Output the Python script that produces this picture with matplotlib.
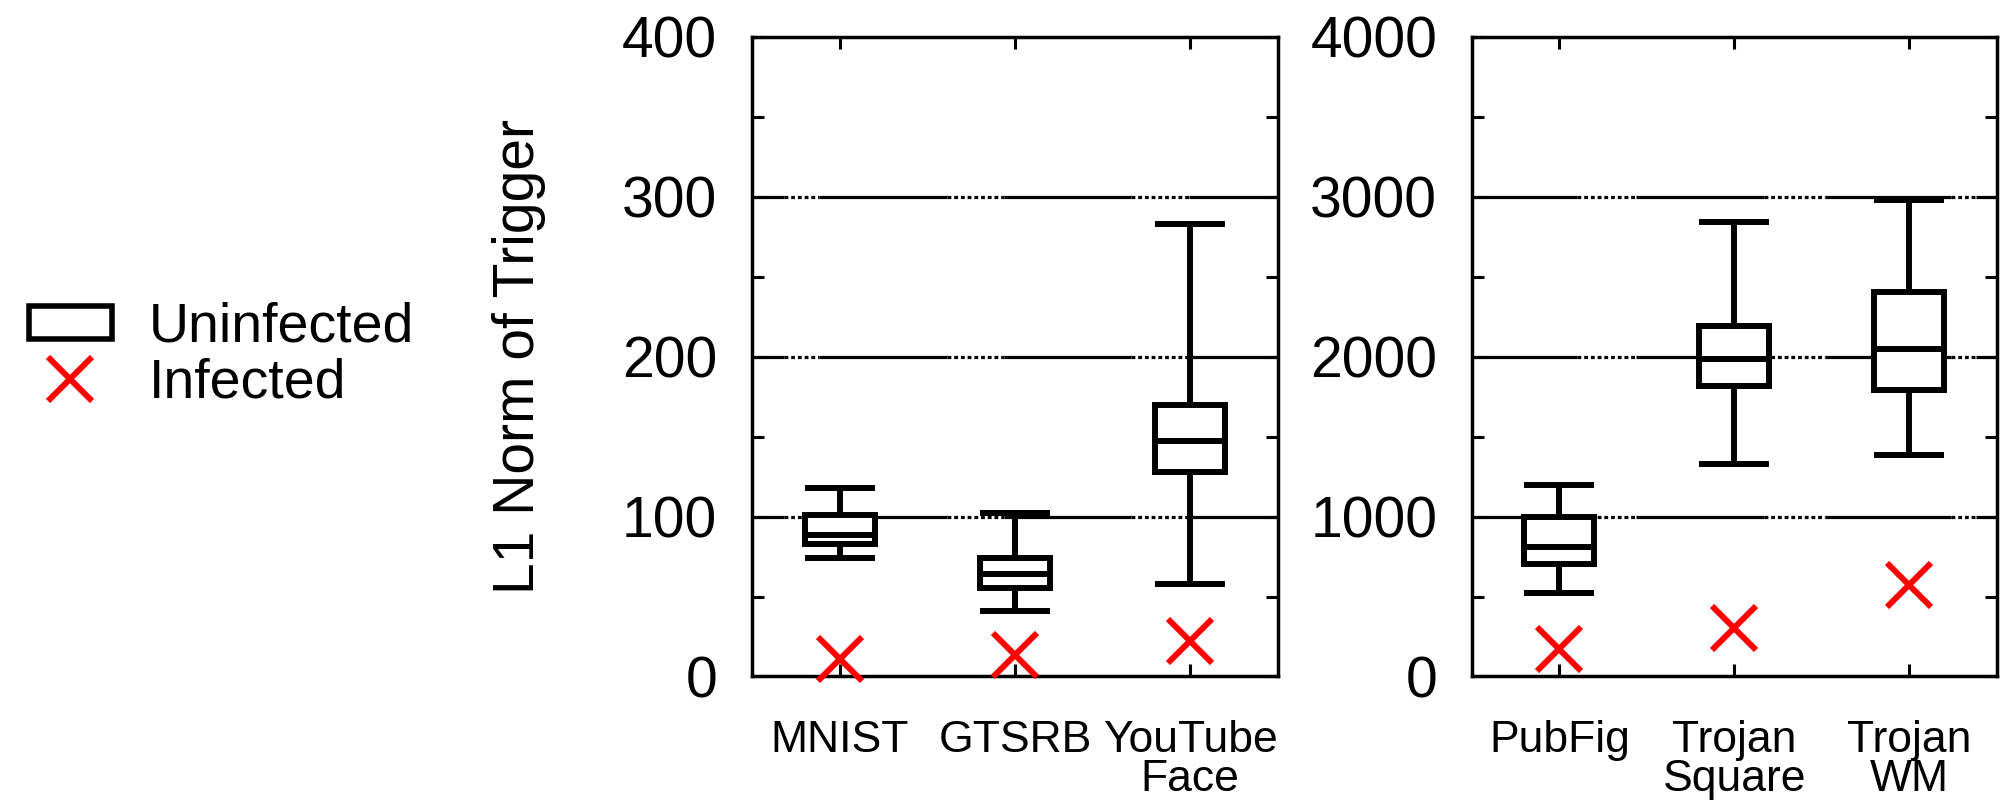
import numpy as np
import matplotlib
matplotlib.use("Agg")
import matplotlib.pyplot as plt
from matplotlib.lines import Line2D
from matplotlib.patches import Patch

plt.rcParams['font.family'] = ['Liberation Sans', 'DejaVu Sans']

# L1 norm of reverse-engineered triggers: uninfected labels as box summaries,
# infected label as a single value per model.
left_names = ["MNIST", "GTSRB", "YouTube\nFace"]
left_whislo = [74, 41, 58]
left_q1 = [83, 55.5, 128]
left_med = [88.5, 64, 147]
left_q3 = [101, 74, 170]
left_whishi = [118, 102.5, 283]
left_infected = [11, 13.5, 22]
left_yticks = [0, 100, 200, 300, 400]

right_names = ["PubFig", "Trojan\nSquare", "Trojan\nWM"]
right_whislo = [525, 1327, 1385]
right_q1 = [705, 1817, 1795]
right_med = [808, 1985, 2047]
right_q3 = [1000, 2195, 2402]
right_whishi = [1200, 2840, 2980]
right_infected = [170, 305, 575]
right_yticks = [0, 1000, 2000, 3000, 4000]

ylabel = "L1 Norm of Trigger"
legend_labels = ["Uninfected", "Infected"]

BOX_LW = 4.3
GRID_LW = 2.3
SPINE_LW = 2.5
RED = "#ff0000"

fig = plt.figure(figsize=(20.09, 8.09), dpi=100)
ax_l = fig.add_axes([0.3743, 0.1638, 0.2618, 0.7905])
ax_r = fig.add_axes([0.7327, 0.1638, 0.2613, 0.7905])


def draw_panel(ax, names, lo, q1, med, q3, hi, infected, yticks, dotted_spans):
    pos = np.arange(1, len(names) + 1)
    stats = [dict(whislo=a, q1=b, med=c, q3=d, whishi=e, fliers=[])
             for a, b, c, d, e in zip(lo, q1, med, q3, hi)]
    line_kw = dict(color="black", linewidth=BOX_LW, solid_capstyle="butt")
    ax.bxp(stats, positions=pos, widths=0.4, capwidths=0.4,
           patch_artist=True, showfliers=False,
           boxprops=dict(facecolor="white", edgecolor="black",
                         linewidth=BOX_LW, joinstyle="miter"),
           medianprops=line_kw, whiskerprops=line_kw, capprops=line_kw,
           zorder=3)
    ax.plot(pos, infected, linestyle="none", marker="x", color=RED,
            markersize=32, markeredgewidth=4.3, zorder=4, clip_on=False)

    # horizontal grid: solid with dotted stretches
    x0, x1 = 0.5, len(names) + 0.5
    edges = [x0] + [v for span in dotted_spans for v in span] + [x1]
    for y in yticks[1:-1]:
        for i in range(len(edges) - 1):
            style = "-" if i % 2 == 0 else (0, (1.2, 0.9))
            ax.plot([edges[i], edges[i + 1]], [y, y], color="black",
                    linewidth=GRID_LW, linestyle=style,
                    solid_capstyle="butt", dash_capstyle="butt", zorder=1)

    ax.set_xlim(x0, x1)
    ax.set_ylim(yticks[0], yticks[-1])
    ax.set_yticks(yticks)
    ax.set_yticks([(a + b) / 2 for a, b in zip(yticks[:-1], yticks[1:])], minor=True)
    ax.set_xticks(pos, names)
    ax.tick_params(which="both", direction="in", top=True, right=True,
                   length=8.6, width=2.2)
    ax.tick_params(axis="y", which="major", labelsize=41, pad=25)
    ax.tick_params(axis="x", labelsize=32, pad=31)
    for t in ax.get_xticklabels():
        t.set_linespacing(0.95)
    for sp in ax.spines.values():
        sp.set_linewidth(SPINE_LW)


draw_panel(ax_l, left_names, left_whislo, left_q1, left_med, left_q3,
           left_whishi, left_infected, left_yticks,
           [(0.68, 0.88), (1.61, 1.94), (2.66, 2.99)])
draw_panel(ax_r, right_names, right_whislo, right_q1, right_med, right_q3,
           right_whishi, right_infected, right_yticks,
           [(1.10, 1.44), (2.17, 2.52), (3.24, 3.38)])

ax_l.set_ylabel(ylabel, fontsize=41, labelpad=55)

handles = [
    Patch(facecolor="white", edgecolor="black", linewidth=4.0),
    Line2D([], [], linestyle="none", marker="x", color=RED,
           markersize=32, markeredgewidth=4.3),
]
fig.legend(handles, legend_labels, loc="upper left",
           bbox_to_anchor=(0.0142, 0.6268), frameon=False, fontsize=40,
           handlelength=1.5, handleheight=0.55, handletextpad=0.67,
           labelspacing=0.06, borderpad=0, borderaxespad=0)

fig.savefig("out.png", dpi=100)
